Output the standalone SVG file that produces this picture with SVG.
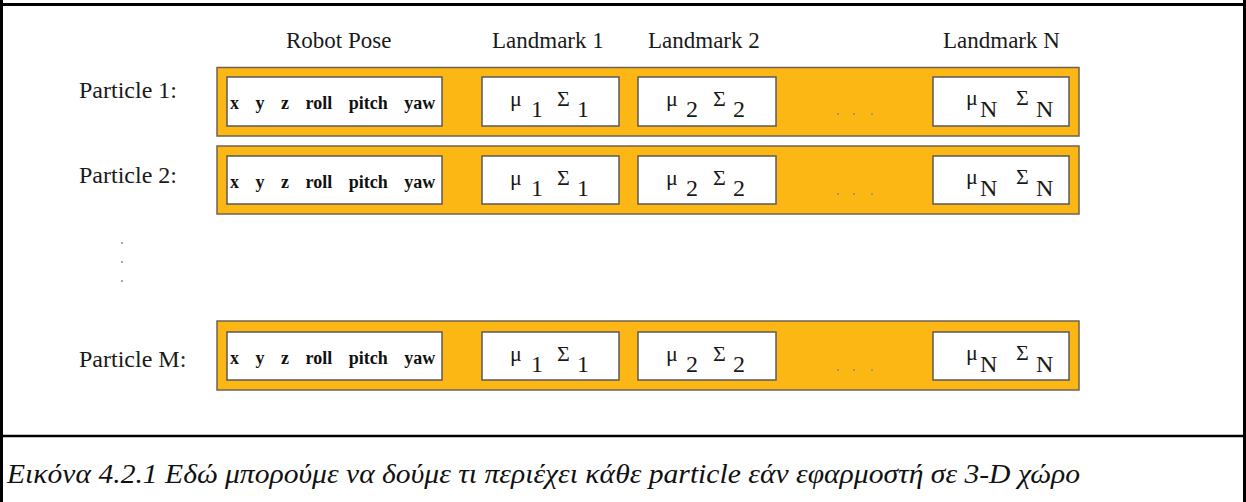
<svg xmlns="http://www.w3.org/2000/svg" width="1246" height="502" viewBox="0 0 1246 502">
<style>
.frame{fill:none;stroke:#000;stroke-width:3}
.bar{fill:#FDB714;stroke:#6e6353;stroke-width:1.5}
.box{fill:#fff;stroke:#5a5a5a;stroke-width:1.5}
.hdr{font-family:"Liberation Serif","Times New Roman",serif;font-size:23px;fill:#1a1a1a}
.lbl{font-family:"Liberation Serif","Times New Roman",serif;font-size:24px;fill:#1a1a1a}
.pose{font-family:"Liberation Serif","Times New Roman",serif;font-size:18px;font-weight:bold;fill:#111;word-spacing:12px}
.gr{font-family:"Liberation Serif","Times New Roman",serif;font-size:22px;fill:#1a1a1a}
.sub{font-size:24px}
.cap{font-family:"Liberation Serif","Times New Roman",serif;font-size:28px;font-style:italic;fill:#111}
.dot{fill:#8a8a8a}
</style>
<g id="frame">
<line class="frame" x1="1.5" y1="0" x2="1.5" y2="502"/>
<line class="frame" x1="1244.5" y1="0" x2="1244.5" y2="502"/>
<line class="frame" x1="0" y1="4.5" x2="1246" y2="4.5"/>
<line class="frame" x1="0" y1="436" x2="1246" y2="436" style="stroke-width:2.5"/>
</g>
<g id="headers">
<text class="hdr" x="286" y="48">Robot Pose</text>
<text class="hdr" x="492" y="48">Landmark 1</text>
<text class="hdr" x="648" y="48">Landmark 2</text>
<text class="hdr" x="943" y="48">Landmark N</text>
</g>
<g id="particle1">
<text class="lbl" x="79" y="98">Particle 1:</text>
<rect class="bar" x="217" y="67.5" width="862" height="68.5"/>
<rect class="box" x="227" y="77" width="215" height="49"/>
<text class="pose" x="230" y="109">x y z roll pitch yaw</text>
<rect class="box" x="482" y="77" width="137" height="49"/>
<text class="gr" x="510" y="106">μ<tspan class="sub" x="531" y="117">1</tspan><tspan x="557" y="106">Σ</tspan><tspan class="sub" x="577" y="117">1</tspan></text>
<rect class="box" x="638" y="77" width="138" height="49"/>
<text class="gr" x="666" y="106">μ<tspan class="sub" x="686" y="117">2</tspan><tspan x="713" y="106">Σ</tspan><tspan class="sub" x="733" y="117">2</tspan></text>
<circle class="dot" cx="838" cy="114" r="1"/><circle class="dot" cx="854" cy="114" r="1"/><circle class="dot" cx="872" cy="114" r="1"/>
<rect class="box" x="933" y="77" width="136" height="49"/>
<text class="gr" x="966" y="105">μ<tspan class="sub" x="980" y="117">N</tspan><tspan x="1016" y="105">Σ</tspan><tspan class="sub" x="1036" y="117">N</tspan></text>
</g>
<g id="particle2">
<text class="lbl" x="79" y="183">Particle 2:</text>
<rect class="bar" x="217" y="146" width="862" height="68"/>
<rect class="box" x="227" y="156" width="215" height="48"/>
<text class="pose" x="230" y="188">x y z roll pitch yaw</text>
<rect class="box" x="482" y="156" width="137" height="48"/>
<text class="gr" x="510" y="185">μ<tspan class="sub" x="531" y="196">1</tspan><tspan x="557" y="185">Σ</tspan><tspan class="sub" x="577" y="196">1</tspan></text>
<rect class="box" x="638" y="156" width="138" height="48"/>
<text class="gr" x="666" y="185">μ<tspan class="sub" x="686" y="196">2</tspan><tspan x="713" y="185">Σ</tspan><tspan class="sub" x="733" y="196">2</tspan></text>
<circle class="dot" cx="838" cy="194" r="1"/><circle class="dot" cx="854" cy="194" r="1"/><circle class="dot" cx="872" cy="194" r="1"/>
<rect class="box" x="933" y="156" width="136" height="48"/>
<text class="gr" x="966" y="184">μ<tspan class="sub" x="980" y="196">N</tspan><tspan x="1016" y="184">Σ</tspan><tspan class="sub" x="1036" y="196">N</tspan></text>
</g>
<g id="vdots">
<circle class="dot" cx="122" cy="243" r="1"/><circle class="dot" cx="122" cy="262" r="1"/><circle class="dot" cx="122" cy="281" r="1"/>
</g>
<g id="particleM">
<text class="lbl" x="79" y="367">Particle M:</text>
<rect class="bar" x="217" y="321" width="862" height="69"/>
<rect class="box" x="227" y="332" width="215" height="48"/>
<text class="pose" x="230" y="364">x y z roll pitch yaw</text>
<rect class="box" x="482" y="332" width="137" height="48"/>
<text class="gr" x="510" y="361">μ<tspan class="sub" x="531" y="372">1</tspan><tspan x="557" y="361">Σ</tspan><tspan class="sub" x="577" y="372">1</tspan></text>
<rect class="box" x="638" y="332" width="138" height="48"/>
<text class="gr" x="666" y="361">μ<tspan class="sub" x="686" y="372">2</tspan><tspan x="713" y="361">Σ</tspan><tspan class="sub" x="733" y="372">2</tspan></text>
<circle class="dot" cx="838" cy="370" r="1"/><circle class="dot" cx="854" cy="370" r="1"/><circle class="dot" cx="872" cy="370" r="1"/>
<rect class="box" x="933" y="332" width="136" height="48"/>
<text class="gr" x="966" y="360">μ<tspan class="sub" x="980" y="372">N</tspan><tspan x="1016" y="360">Σ</tspan><tspan class="sub" x="1036" y="372">N</tspan></text>
</g>
<g id="caption">
<text class="cap" x="7" y="483" textLength="1073" lengthAdjust="spacingAndGlyphs">Εικόνα 4.2.1 Εδώ μπορούμε να δούμε τι περιέχει κάθε particle εάν εφαρμοστή σε 3-D χώρο</text>
</g>
</svg>
